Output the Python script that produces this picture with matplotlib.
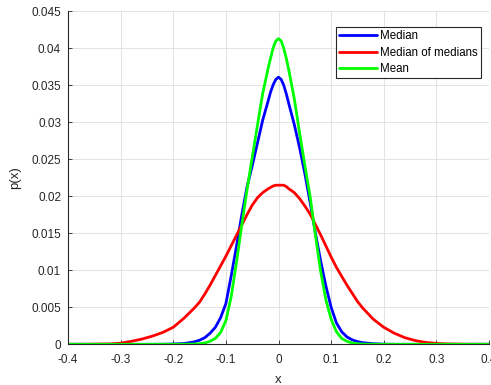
import matplotlib
matplotlib.use("Agg")
import matplotlib.pyplot as plt

plt.rcParams['font.family'] = ['Liberation Sans', 'DejaVu Sans']

# shared x grid
x_vals = [-0.40, -0.36, -0.32, -0.30, -0.28, -0.26, -0.24, -0.22, -0.20, -0.18,
          -0.16, -0.15, -0.14, -0.13, -0.12, -0.11, -0.10, -0.09, -0.08, -0.07,
          -0.06, -0.05, -0.04, -0.03, -0.02, -0.015, -0.01, -0.005, 0.00, 0.005,
          0.01, 0.015, 0.02, 0.03, 0.04, 0.05, 0.06, 0.07, 0.08, 0.09,
          0.10, 0.11, 0.12, 0.13, 0.14, 0.15, 0.16, 0.18, 0.20, 0.22,
          0.24, 0.26, 0.28, 0.30, 0.32, 0.36, 0.40]

median_vals = [0.0, 0.0, 0.0, 0.0, 0.0, 0.0, 0.0, 0.00001, 0.00004, 0.0001,
               0.00033, 0.00055, 0.0009, 0.0015, 0.0023, 0.0036, 0.0055, 0.0092, 0.0132, 0.0174,
               0.0212, 0.0241, 0.0272, 0.0303, 0.0328, 0.0341, 0.0351, 0.0358, 0.0361, 0.0358,
               0.0350, 0.0338, 0.0324, 0.0297, 0.0266, 0.0231, 0.0192, 0.0151, 0.0113, 0.0079,
               0.0050, 0.0029, 0.0017, 0.0010, 0.0006, 0.00037, 0.00022, 0.00008, 0.00002, 0.0,
               0.0, 0.0, 0.0, 0.0, 0.0, 0.0, 0.0]

median_of_medians_vals = [0.0, 0.00001, 0.00005, 0.00015, 0.0004, 0.0007, 0.0011, 0.0016, 0.0023, 0.0035,
                          0.0049, 0.0057, 0.0068, 0.0080, 0.0093, 0.0106, 0.0119, 0.0133, 0.0147, 0.0161,
                          0.0175, 0.0188, 0.0198, 0.0205, 0.0210, 0.0212, 0.0214, 0.0215, 0.0215, 0.0215,
                          0.0215, 0.0213, 0.0210, 0.0205, 0.0197, 0.0187, 0.0176, 0.0162, 0.0148, 0.0133,
                          0.0118, 0.0104, 0.0092, 0.0080, 0.0069, 0.0058, 0.0049, 0.0034, 0.0023, 0.0015,
                          0.0009, 0.0005, 0.00025, 0.00012, 0.00005, 0.00001, 0.0]

mean_vals = [0.0, 0.0, 0.0, 0.0, 0.0, 0.0, 0.0, 0.0, 0.0, 0.00001,
             0.00004, 0.00008, 0.00018, 0.0004, 0.0008, 0.0016, 0.0032, 0.0064, 0.0110, 0.0160,
             0.0208, 0.0252, 0.0296, 0.0339, 0.0372, 0.0387, 0.0401, 0.0410, 0.0413, 0.0410,
             0.0400, 0.0386, 0.0369, 0.0332, 0.0286, 0.0242, 0.0200, 0.0148, 0.0099, 0.0060,
             0.0034, 0.0017, 0.0008, 0.0004, 0.00018, 0.00008, 0.00003, 0.00001, 0.0, 0.0,
             0.0, 0.0, 0.0, 0.0, 0.0, 0.0, 0.0]

series_labels = ["Median", "Median of medians", "Mean"]
series_colors = ["#0000ff", "#ff0000", "#00ff00"]

x_ticks = [-0.4, -0.3, -0.2, -0.1, 0, 0.1, 0.2, 0.3, 0.4]
x_ticklabels = ["-0.4", "-0.3", "-0.2", "-0.1", "0", "0.1", "0.2", "0.3", "0.4"]
y_ticks = [0, 0.005, 0.01, 0.015, 0.02, 0.025, 0.03, 0.035, 0.04, 0.045]
y_ticklabels = ["0", "0.005", "0.01", "0.015", "0.02", "0.025", "0.03", "0.035", "0.04", "0.045"]

fig = plt.figure(figsize=(4.91, 3.85), dpi=100)
ax = fig.add_axes([68/491, 1 - 344.3/385, (489 - 68)/491, (344.3 - 11.3)/385])

for vals, lab, col in zip([median_vals, median_of_medians_vals, mean_vals], series_labels, series_colors):
    ax.plot(x_vals, vals, color=col, linewidth=2.0, label=lab,
            solid_joinstyle='round', solid_capstyle='round')

ax.set_xlim(-0.4, 0.4)
ax.set_ylim(0, 0.045)
ax.set_xticks(x_ticks)
ax.set_xticklabels(x_ticklabels)
ax.set_yticks(y_ticks)
ax.set_yticklabels(y_ticklabels)

axc = "#262626"
for s in ["top", "right"]:
    ax.spines[s].set_visible(False)
for s in ["left", "bottom"]:
    ax.spines[s].set_color(axc)
    ax.spines[s].set_linewidth(0.8)

ax.tick_params(direction="in", length=3, width=0.6, color=axc, labelcolor=axc, labelsize=8.5)
ax.tick_params(axis="x", pad=7)
ax.tick_params(axis="y", pad=5)
ax.grid(True, color="#dedede", linewidth=0.6)
ax.set_axisbelow(True)

ax.set_xlabel("x", fontsize=9.5, color=axc, labelpad=6)
ax.set_ylabel("p(x)", fontsize=9.5, color=axc, labelpad=7)

leg = ax.legend(loc="upper right", bbox_to_anchor=((481 - 68) / 421, 1 - (26.7 - 11.3) / 333),
                fontsize=8.3, frameon=True, fancybox=False, framealpha=1,
                edgecolor="#262626", handlelength=3.3, handletextpad=0.25,
                borderpad=0.3, labelspacing=0.38, borderaxespad=0.0)
leg.get_frame().set_linewidth(0.8)

fig.savefig("out.png", dpi=100)
